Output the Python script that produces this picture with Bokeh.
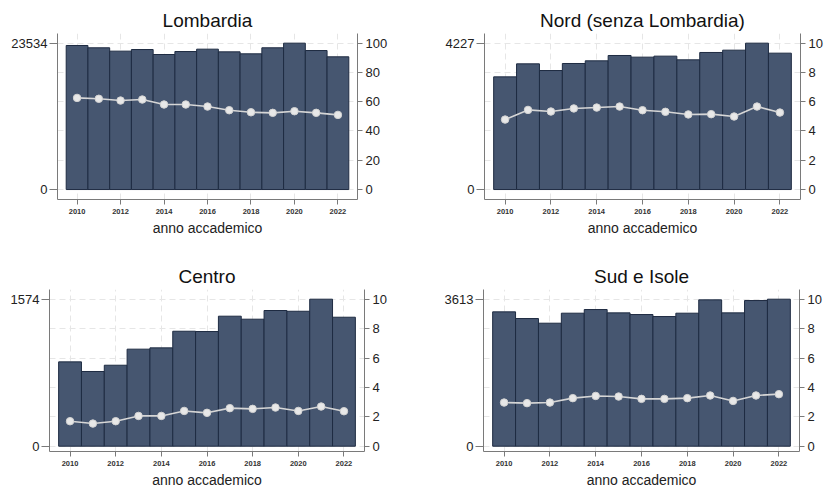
from bokeh.plotting import figure
from bokeh.models import Range1d, LinearAxis, FixedTicker
from bokeh.layouts import column, row
from bokeh.embed import file_html
from bokeh.resources import INLINE

years = list(range(2010, 2023))
year_ticks = list(range(2010, 2023, 2))

lomb_counts = [23160, 22790, 22250, 22510, 21710, 22190, 22570, 22140, 21820, 22790, 23534, 22350, 21340]
lomb_pct = [62.6, 62.0, 60.8, 61.5, 58.1, 58.1, 56.7, 54.2, 52.8, 52.4, 53.5, 52.4, 51.0]

nord_counts = [3254, 3630, 3437, 3640, 3717, 3871, 3823, 3852, 3746, 3958, 4025, 4227, 3938]
nord_pct = [4.78, 5.44, 5.33, 5.54, 5.60, 5.67, 5.42, 5.31, 5.13, 5.15, 4.99, 5.67, 5.26]

centro_counts = [903, 800, 867, 1039, 1053, 1231, 1228, 1392, 1360, 1453, 1445, 1574, 1381]
centro_pct = [1.70, 1.54, 1.70, 2.06, 2.06, 2.40, 2.27, 2.59, 2.54, 2.63, 2.40, 2.70, 2.38]

sud_counts = [3302, 3138, 3023, 3269, 3359, 3277, 3236, 3187, 3269, 3597, 3277, 3580, 3613]
sud_pct = [2.97, 2.93, 2.97, 3.27, 3.42, 3.38, 3.22, 3.22, 3.27, 3.45, 3.08, 3.45, 3.54]

pct_ticks_100 = [0, 20, 40, 60, 80, 100]
pct_ticks_10 = [0, 2, 4, 6, 8, 10]

FONT = "Liberation Sans"
BAR = "#465670"
BAR_LINE = "#1e2b42"
AXIS = "#7a7a7a"


def panel(title, counts, pct, pct_ticks, fw, fh, bl, br, bt, bb, lo, hi):
    M = max(counts)
    P = max(pct_ticks)
    p = figure(frame_width=fw, frame_height=fh,
               min_border_left=bl, min_border_right=br,
               min_border_top=bt, min_border_bottom=bb,
               x_range=Range1d(2009.1, 2022.9),
               y_range=Range1d(lo * M, hi * M),
               output_backend="svg", toolbar_location=None,
               background_fill_color="white", border_fill_color="white")
    p.outline_line_color = None
    p.extra_y_ranges = {"pct": Range1d(lo * P, hi * P)}

    p.title.text = title
    p.title.align = "center"
    p.title.text_font = FONT
    p.title.text_font_size = "19px"
    p.title.text_font_style = "normal"
    p.title.text_color = "#111111"
    p.title.standoff = 6

    # grid
    p.xgrid.grid_line_color = "#e6e6e6"
    p.xgrid.grid_line_dash = "6 4"
    p.ygrid.grid_line_color = "#e6e6e6"
    p.ygrid.grid_line_dash = "6 4"
    p.ygrid.y_range_name = "pct"
    p.ygrid.ticker = FixedTicker(ticks=pct_ticks)

    p.vbar(x=years, top=counts, bottom=0, width=1.0,
           fill_color=BAR, line_color=BAR_LINE, line_width=1)
    p.line(years, pct, y_range_name="pct", line_color="#d6d6d6", line_width=1.6)
    p.scatter(years, pct, y_range_name="pct", size=7.5,
              fill_color="#e8e8e8", line_color="#d2d2d2", line_width=1)

    # x axis
    xa = p.xaxis[0]
    xa.ticker = FixedTicker(ticks=year_ticks)
    xa.axis_label = "anno accademico"
    xa.axis_label_text_font = FONT
    xa.axis_label_text_font_size = "14px"
    xa.axis_label_text_font_style = "normal"
    xa.axis_label_text_color = "#222222"
    xa.axis_label_standoff = 3
    xa.major_label_text_font = FONT
    xa.major_label_text_font_style = "bold"
    xa.major_label_text_font_size = "7.5px"
    xa.major_label_text_color = "#333333"
    xa.major_label_standoff = 4
    xa.major_tick_out = 5

    # left axis
    ya = p.yaxis[0]
    ya.ticker = FixedTicker(ticks=[0, M])
    ya.formatter.use_scientific = False
    ya.major_label_text_font = FONT
    ya.major_label_text_font_size = "13px"
    ya.major_label_text_color = "#222222"
    ya.major_label_standoff = 2
    ya.major_tick_out = 8

    ra = LinearAxis(y_range_name="pct", ticker=FixedTicker(ticks=pct_ticks))
    ra.major_label_text_font = FONT
    ra.major_label_text_font_size = "13px"
    ra.major_label_text_color = "#222222"
    ra.major_label_standoff = 3
    ra.major_tick_out = 5
    p.add_layout(ra, "right")

    for ax in (xa, ya, ra):
        ax.axis_line_color = AXIS
        ax.major_tick_line_color = AXIS
        ax.major_tick_in = 0
        ax.minor_tick_line_color = None
    return p


p1 = panel("Lombardia", lomb_counts, lomb_pct, pct_ticks_100,
           300, 166, 57, 55, 33, 40, -0.068, 1.066)
p2 = panel("Nord (senza Lombardia)", nord_counts, nord_pct, pct_ticks_10,
           316, 166, 72, 24, 33, 40, -0.068, 1.066)
p3 = panel("Centro", centro_counts, centro_pct, pct_ticks_10,
           315, 162, 49, 48, 50, 37, -0.036, 1.066)
p4 = panel("Sud e Isole", sud_counts, sud_pct, pct_ticks_10,
           316, 162, 71, 24, 50, 37, -0.036, 1.066)

layout = column(row(p1, p2), row(p3, p4))
open("out.html", "w").write(file_html(layout, INLINE))
